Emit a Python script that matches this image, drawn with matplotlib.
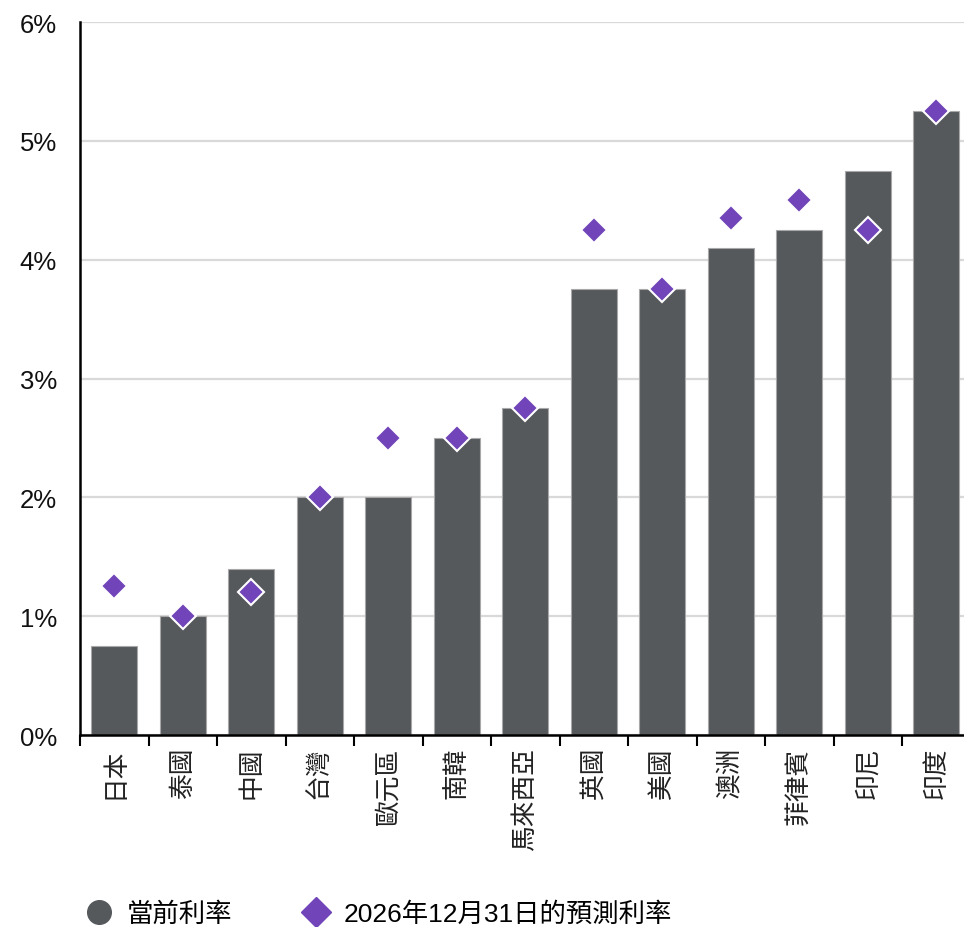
import matplotlib
matplotlib.use("Agg")
import matplotlib.pyplot as plt
from matplotlib.lines import Line2D
import numpy as np

plt.rcParams['font.family'] = ['Liberation Sans', 'Noto Sans CJK TC', 'DejaVu Sans']

categories = ["日本", "泰國", "中國", "台灣", "歐元區", "南韓", "馬來西亞", "英國", "美國", "澳洲", "菲律賓", "印尼", "印度"]
current_rate = [0.75, 1.0, 1.4, 2.0, 2.0, 2.5, 2.75, 3.75, 3.75, 4.1, 4.25, 4.75, 5.25]
forecast_rate = [1.25, 1.0, 1.2, 2.0, 2.5, 2.5, 2.75, 4.25, 3.75, 4.35, 4.5, 4.25, 5.25]
y_ticks = [0, 1, 2, 3, 4, 5, 6]
y_tick_labels = ["0%", "1%", "2%", "3%", "4%", "5%", "6%"]
legend_labels = ["當前利率", "2026年12月31日的預測利率"]

bar_color = "#56595c"
dia_color = "#7145b9"
FS = 18.5

fig = plt.figure(figsize=(9.64, 9.28), dpi=100)
ax = fig.add_axes([80/964, 1-736/928, 13*68.5/964, (736-23)/928])

x = np.arange(len(categories))
ax.bar(x, current_rate, width=0.67, color=bar_color, edgecolor="#a8a8a8", linewidth=0.8, zorder=2)
ax.plot(x, forecast_rate, linestyle="none", marker="D", markersize=13.5,
        markerfacecolor=dia_color, markeredgecolor="white", markeredgewidth=1.5, zorder=3)

ax.set_xlim(-0.5, len(categories) - 0.5)
ax.set_ylim(0, 6)
ax.set_yticks(y_ticks)
ax.set_yticklabels(y_tick_labels, fontsize=FS, color="#111111")
ax.tick_params(axis="y", length=0, pad=16.5)
ax.grid(axis="y", color="#d9d9d9", linewidth=1.6, zorder=0)
ax.set_axisbelow(True)

ax.set_xticks(np.arange(-0.5, len(categories), 1))
ax.set_xticklabels([])
ax.tick_params(axis="x", which="major", length=8, width=1.5, color="black")
ax.set_xticks(x, minor=True)
ax.set_xticklabels(categories, minor=True, rotation=90, fontsize=FS,
                   family=['Noto Sans CJK TC', 'DejaVu Sans'], color="#222222")
ax.tick_params(axis="x", which="minor", length=0, pad=8.5)

for s in ["top", "right"]:
    ax.spines[s].set_visible(False)
ax.spines["left"].set_linewidth(1.8)
ax.spines["bottom"].set_linewidth(1.8)

handles = [
    Line2D([], [], linestyle="none", marker="o", markersize=17, markerfacecolor=bar_color, markeredgecolor=bar_color),
    Line2D([], [], linestyle="none", marker="D", markersize=15, markerfacecolor=dia_color, markeredgecolor=dia_color),
]
fig.legend(handles, legend_labels, loc="center left", bbox_to_anchor=(69/964, 1-915/928),
           ncol=2, frameon=False, handlelength=1.5, handletextpad=0.3, columnspacing=2.4,
           borderaxespad=0, prop={'family': ['Liberation Sans', 'Noto Sans CJK TC'], 'size': 19})

fig.savefig("out.png", dpi=100)
